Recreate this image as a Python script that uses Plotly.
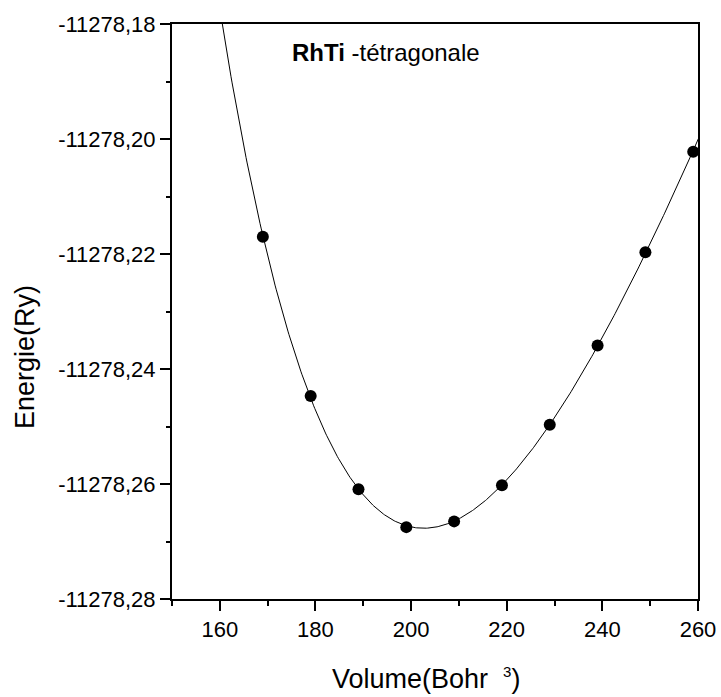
import numpy as np
import plotly.graph_objects as go

# Data
volume = [169, 179, 189, 199, 209, 219, 229, 239, 249, 259]
energy = [-11278.2170, -11278.2447, -11278.2609, -11278.2675, -11278.2665,
          -11278.2602, -11278.2497, -11278.2359, -11278.2197, -11278.2022]

y_tickvals = [-11278.28, -11278.26, -11278.24, -11278.22, -11278.20, -11278.18]
y_ticktext = ["-11278,28", "-11278,26", "-11278,24", "-11278,22", "-11278,20", "-11278,18"]
x_tickvals = [160, 180, 200, 220, 240, 260]

# Birch-Murnaghan style fit (cubic in V^(-2/3)) through the data
v = np.array(volume, dtype=float)
xv = v ** (-2.0 / 3.0)
coef = np.polyfit(xv, np.array(energy) + 11278.0, 3)
vfit = np.linspace(150, 262, 500)
efit = np.polyval(coef, vfit ** (-2.0 / 3.0)) - 11278.0

L, R, T, B = 172, 23, 24, 98
W, H = 721, 697
pw, ph = W - L - R, H - T - B

def px(xp):
    return (xp - L) / pw

def py(yp):
    return (H - B - yp) / ph

fig = go.Figure()
fig.add_trace(go.Scatter(x=vfit, y=efit, mode="lines",
                         line=dict(color="black", width=1), showlegend=False,
                         hoverinfo="skip"))
fig.add_trace(go.Scatter(x=volume, y=energy, mode="markers",
                         marker=dict(color="black", size=12), showlegend=False))

font = "Liberation Sans, Arial, sans-serif"
fig.update_layout(
    width=W, height=H,
    margin=dict(l=L, r=R, t=T, b=B),
    paper_bgcolor="white", plot_bgcolor="white",
    font=dict(family=font, color="black", size=22),
    xaxis=dict(range=[150, 260], tickvals=x_tickvals, automargin=False,
               ticks="outside", ticklen=10, tickwidth=2, tickcolor="black",
               showline=True, linecolor="black", linewidth=2, mirror=True,
               showgrid=False, zeroline=False,
               minor=dict(tick0=150, dtick=10, ticks="outside", ticklen=5,
                          tickwidth=2, tickcolor="black", showgrid=False),
               tickfont=dict(size=22)),
    yaxis=dict(range=[-11278.28, -11278.18], tickvals=y_tickvals, ticktext=y_ticktext,
               automargin=False,
               ticks="outside", ticklen=10, tickwidth=2, tickcolor="black",
               showline=True, linecolor="black", linewidth=2, mirror=True,
               showgrid=False, zeroline=False,
               minor=dict(tick0=-11278.28, dtick=0.01, ticks="outside", ticklen=4,
                          tickwidth=2, tickcolor="black", showgrid=False),
               tickfont=dict(size=22)),
    annotations=[
        dict(x=px(290), y=py(53), xref="paper", yref="paper",
             xanchor="left", yanchor="middle", showarrow=False,
             text="<b>RhTi</b> -tétragonale", font=dict(size=24)),
        dict(x=px(426), y=py(678), xref="paper", yref="paper",
             xanchor="center", yanchor="middle", showarrow=False,
             text="Volume(Bohr&nbsp;&nbsp;<sup><span style='font-size:15px'>3</span></sup>)",
             font=dict(size=27)),
        dict(x=px(25), y=py(357), xref="paper", yref="paper",
             xanchor="center", yanchor="middle", showarrow=False, textangle=-90,
             text="Energie(Ry)", font=dict(size=27)),
    ],
)

fig.write_html("out.html", config={"displayModeBar": False},
               post_script="document.body.style.margin='0';document.body.style.padding='0';")
